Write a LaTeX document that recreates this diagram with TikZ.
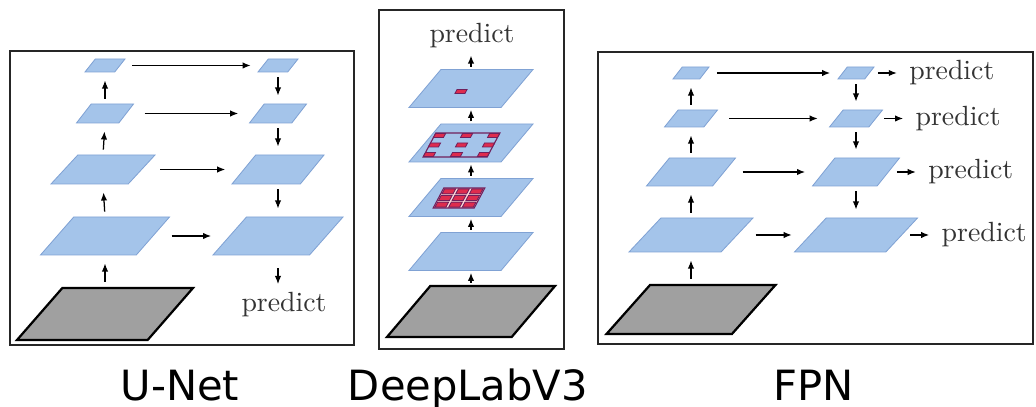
\documentclass[tikz,border=0pt]{standalone}
\usepackage{fontspec}
\newfontfamily\capfont{DejaVu Sans}
\usetikzlibrary{shapes.geometric, positioning, arrows.meta}

\definecolor{layerblue}{RGB}{164,196,234}
\definecolor{layeredge}{RGB}{128,162,212}
\definecolor{inputgray}{RGB}{160,160,160}
\definecolor{kernelred}{RGB}{222,44,78}
\definecolor{kernelrim}{RGB}{112,32,92}

\tikzset{
  layer/.style 2 args={trapezium, trapezium left angle=62, trapezium right angle=118,
    trapezium stretches=true, draw=layeredge, fill=layerblue, line width=0.3pt,
    inner sep=0.5pt, minimum width=#1*0.36pt, minimum height=#2*0.36pt},
  inputmap/.style 2 args={layer={#1}{#2}, draw=black, fill=inputgray, line width=0.8pt},
  tip/.style={-{Latex[length=2.9pt,width=2.3pt]}, line width=0.45pt},
  flow/.style={tip, shorten <=1.8pt, shorten >=2.9pt},
  climb/.style={tip, shorten <=0.8pt, shorten >=0.7pt},
  hop/.style={tip, shorten <=#1, shorten >=#1},
  hop/.default=6.5pt,
  frame/.style={draw=black!85, line width=0.9pt},
  predict/.style={text=black!80, inner sep=0pt},
  caption/.style={font=\capfont\fontsize{15}{18}\selectfont, anchor=base},
  kernelcell/.style={fill=kernelred, draw=kernelrim, line width=0.3pt}
}

\begin{document}
\begin{tikzpicture}[x=0.36pt, y=-0.36pt]
\useasboundingbox (0,0) rectangle (1036,407);
% Outer frames of the three panels
\draw[frame] (10,51) rectangle (354,345);
\draw[frame] (379,10) rectangle (564,349);
\draw[frame] (598,52) rectangle (1033,344);

% U-Net: encoder column
\node[inputmap={176}{52}] (ugray) at (105,314) {};
\node[layer={129}{38}] (u4) at (105,236) {};
\node[layer={104}{29}] (u3) at (103,169.5) {};
\node[layer={57}{19}] (u2) at (105,113.5) {};
\node[layer={40}{13}] (u1) at (105,65.5) {};
% U-Net: decoder column
\node[layer={40}{13}] (d1) at (278,65.5) {};
\node[layer={57}{19}] (d2) at (278,113.5) {};
\node[layer={92}{29}] (d3) at (278,169.5) {};
\node[layer={130}{38}] (d4) at (278,236) {};
\node[predict] (upred) at (284,305) {predict};
% U-Net arrows
\draw[flow] (ugray.north) -- (u4.south);
\draw[flow] (u4.north) -- (u3.south);
\draw[flow] (u3.north) -- (u2.south);
\draw[flow] (u2.north) -- (u1.south);
\draw[flow] (d1.south) -- (d2.north);
\draw[flow] (d2.south) -- (d3.north);
\draw[flow] (d3.south) -- (d4.north);
\draw[flow, shorten <=4.7pt] (d4.south) -- (d4.south |- upred.north);
\draw[hop=4.3pt] (u1.east) -- (d1.west);
\draw[hop] (u2.east) -- (d2.west);
\draw[hop] (u3.east) -- (d3.west);
\draw[hop] (u4.east) -- (d4.west);

% DeepLabV3: one column of feature maps
\node[inputmap={168}{51}] (dgray) at (471,311.5) {};
\node[layer={124}{38}] (dl1) at (471,251.5) {};
\node[layer={124}{38}] (dl2) at (471,197.5) {};
\node[layer={124}{38}] (dl3) at (471,143) {};
\node[layer={124}{38}] (dl4) at (471,88.5) {};
\node[predict] (dpred) at (472,36) {predict};
\draw[climb] (dgray.north) -- (dl1.south);
\draw[climb] (dl1.north) -- (dl2.south);
\draw[climb] (dl2.north) -- (dl3.south);
\draw[climb] (dl3.north) -- (dl4.south);
\draw[climb, shorten >=2.4pt] (dl4.north) -- (dl4.north |- dpred.south);
% Compact 3x3 kernel
\begin{scope}[shift={(459,198)}, xslant=0.53]
  \draw[kernelrim, fill=red!15, line width=0.4pt] (-20.5,-10) rectangle (20.5,10);
  \foreach \i in {-1,0,1} \foreach \j in {-1,0,1}
    \draw[kernelcell] (\i*13.7-5.5,\j*6.6-2.5) rectangle +(11,5);
\end{scope}
% Dilated 3x3 kernel
\begin{scope}[shift={(461.5,145)}, xslant=0.53]
  \draw[kernelrim, line width=0.4pt] (-32,-12) rectangle (32,12);
  \foreach \i in {-1,0,1} \foreach \j in {-1,0,1}
    \draw[kernelcell] (\i*27-5,\j*9.5-2) rectangle +(10,4);
\end{scope}
% Single cell on the last map
\begin{scope}[shift={(461,91.5)}, xslant=0.53]
  \draw[kernelcell] (-5,-2) rectangle (5,2);
\end{scope}

% FPN: bottom-up column
\node[inputmap={169}{49}] (fgray) at (691,309.5) {};
\node[layer={124}{34}] (f4) at (691,235) {};
\node[layer={89}{28}] (f3) at (691,172) {};
\node[layer={53}{17}] (f2) at (691,118.5) {};
\node[layer={36}{12}] (f1) at (691,73) {};
% FPN: top-down column
\node[layer={36}{12}] (g1) at (856,73) {};
\node[layer={53}{17}] (g2) at (856,118.5) {};
\node[layer={87}{28}] (g3) at (856,172) {};
\node[layer={123}{34}] (g4) at (856,235) {};
% One prediction per level
\node[predict, right=14pt of g1] (p1) {predict};
\node[predict, right=14pt of g2] (p2) {predict};
\node[predict, right=14pt of g3] (p3) {predict};
\node[predict, right=14pt of g4] (p4) {predict};
% FPN arrows
\draw[flow] (fgray.north) -- (f4.south);
\draw[flow] (f4.north) -- (f3.south);
\draw[flow] (f3.north) -- (f2.south);
\draw[flow] (f2.north) -- (f1.south);
\draw[flow] (g1.south) -- (g2.north);
\draw[flow] (g2.south) -- (g3.north);
\draw[flow] (g3.south) -- (g4.north);
\draw[hop=4.3pt] (f1.east) -- (g1.west);
\draw[hop] (f2.east) -- (g2.west);
\draw[hop] (f3.east) -- (g3.west);
\draw[hop] (f4.east) -- (g4.west);
\draw[tip, shorten <=2.9pt, shorten >=4.3pt] (g1.east) -- (p1.west);
\draw[tip, shorten <=2.9pt, shorten >=4.3pt] (g2.east) -- (p2.west);
\draw[tip, shorten <=2.9pt, shorten >=4.3pt] (g3.east) -- (p3.west);
\draw[tip, shorten <=2.9pt, shorten >=4.3pt] (g4.east) -- (p4.west);

% Panel names
\node[caption] (cunet) at (180,401) {U-Net};
\node[caption] (cdeep) at (468,401) {DeepLabV3};
\node[caption] (cfpn) at (814,401) {FPN};
\end{tikzpicture}
\end{document}
